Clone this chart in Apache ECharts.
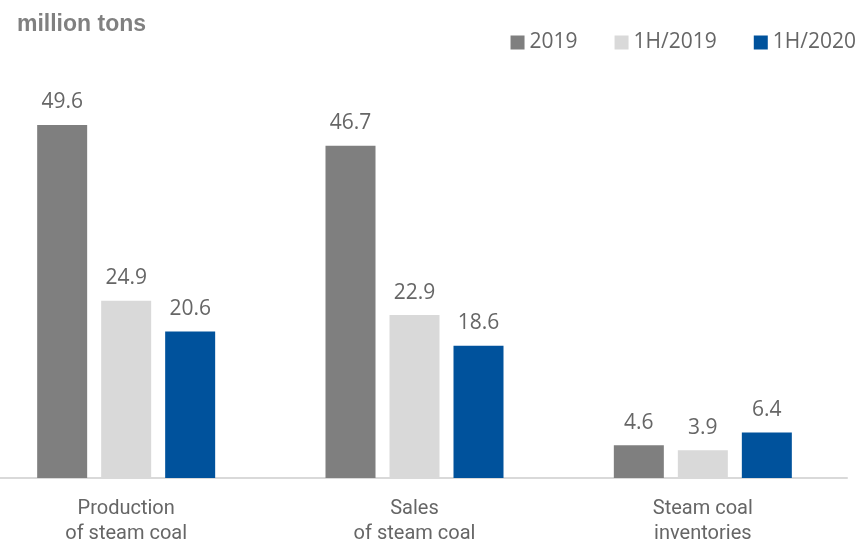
<!DOCTYPE html>
<html>
<head>
<meta charset="utf-8">
<script src="https://cdn.jsdelivr.net/npm/echarts@6/dist/echarts.min.js"></script>
<style>
  html, body { margin: 0; padding: 0; background: #fff; }
  #chart { width: 861px; height: 541px; }
</style>
</head>
<body>
<div id="chart"></div>
<script>
// categories and values (million tons)
var categories = ["Production\nof steam coal", "Sales\nof steam coal", "Steam coal\ninventories"];
var seriesNames = ["2019", "1H/2019", "1H/2020"];
var values2019 = [49.6, 46.7, 4.6];
var values1H2019 = [24.9, 22.9, 3.9];
var values1H2020 = [20.6, 18.6, 6.4];
var colors = ["#7f7f7f", "#d9d9d9", "#00529c"];

var chart = echarts.init(document.getElementById("chart"));

var labelStyle = {
  show: true,
  position: "top",
  distance: 12,
  color: "#666666",
  fontSize: 21,
  fontFamily: "Open Sans",
  formatter: function (p) { return p.value.toFixed(1); }
};

function makeSeries(name, data, color) {
  return {
    name: name,
    type: "bar",
    data: data,
    barWidth: 50,
    barGap: "28%",
    itemStyle: { color: color },
    label: labelStyle
  };
}

chart.setOption({
  animation: false,
  title: {
    text: "million tons",
    left: 12,
    top: 8,
    textStyle: { color: "#808080", fontSize: 23, fontWeight: "bold", fontFamily: "Liberation Sans" }
  },
  legend: {
    data: seriesNames,
    right: 0,
    top: 27,
    itemWidth: 14,
    itemHeight: 14,
    itemGap: 37,
    icon: "rect",
    textStyle: { color: "#666666", fontSize: 21, fontFamily: "Open Sans" }
  },
  grid: {
    left: -18,
    right: 14,
    top: 51,
    bottom: 63,
    outerBoundsMode: "none",
    containLabel: false
  },
  xAxis: {
    type: "category",
    data: categories,
    axisLine: { lineStyle: { color: "#d9d9d9", width: 2 } },
    axisTick: { show: false },
    axisLabel: {
      color: "#666666",
      fontSize: 20,
      fontFamily: "Roboto",
      lineHeight: 25,
      margin: 18
    }
  },
  yAxis: {
    type: "value",
    min: 0,
    max: 60,
    show: false,
    splitLine: { show: false }
  },
  series: [
    makeSeries(seriesNames[0], values2019, colors[0]),
    makeSeries(seriesNames[1], values1H2019, colors[1]),
    makeSeries(seriesNames[2], values1H2020, colors[2])
  ]
});
</script>
</body>
</html>
